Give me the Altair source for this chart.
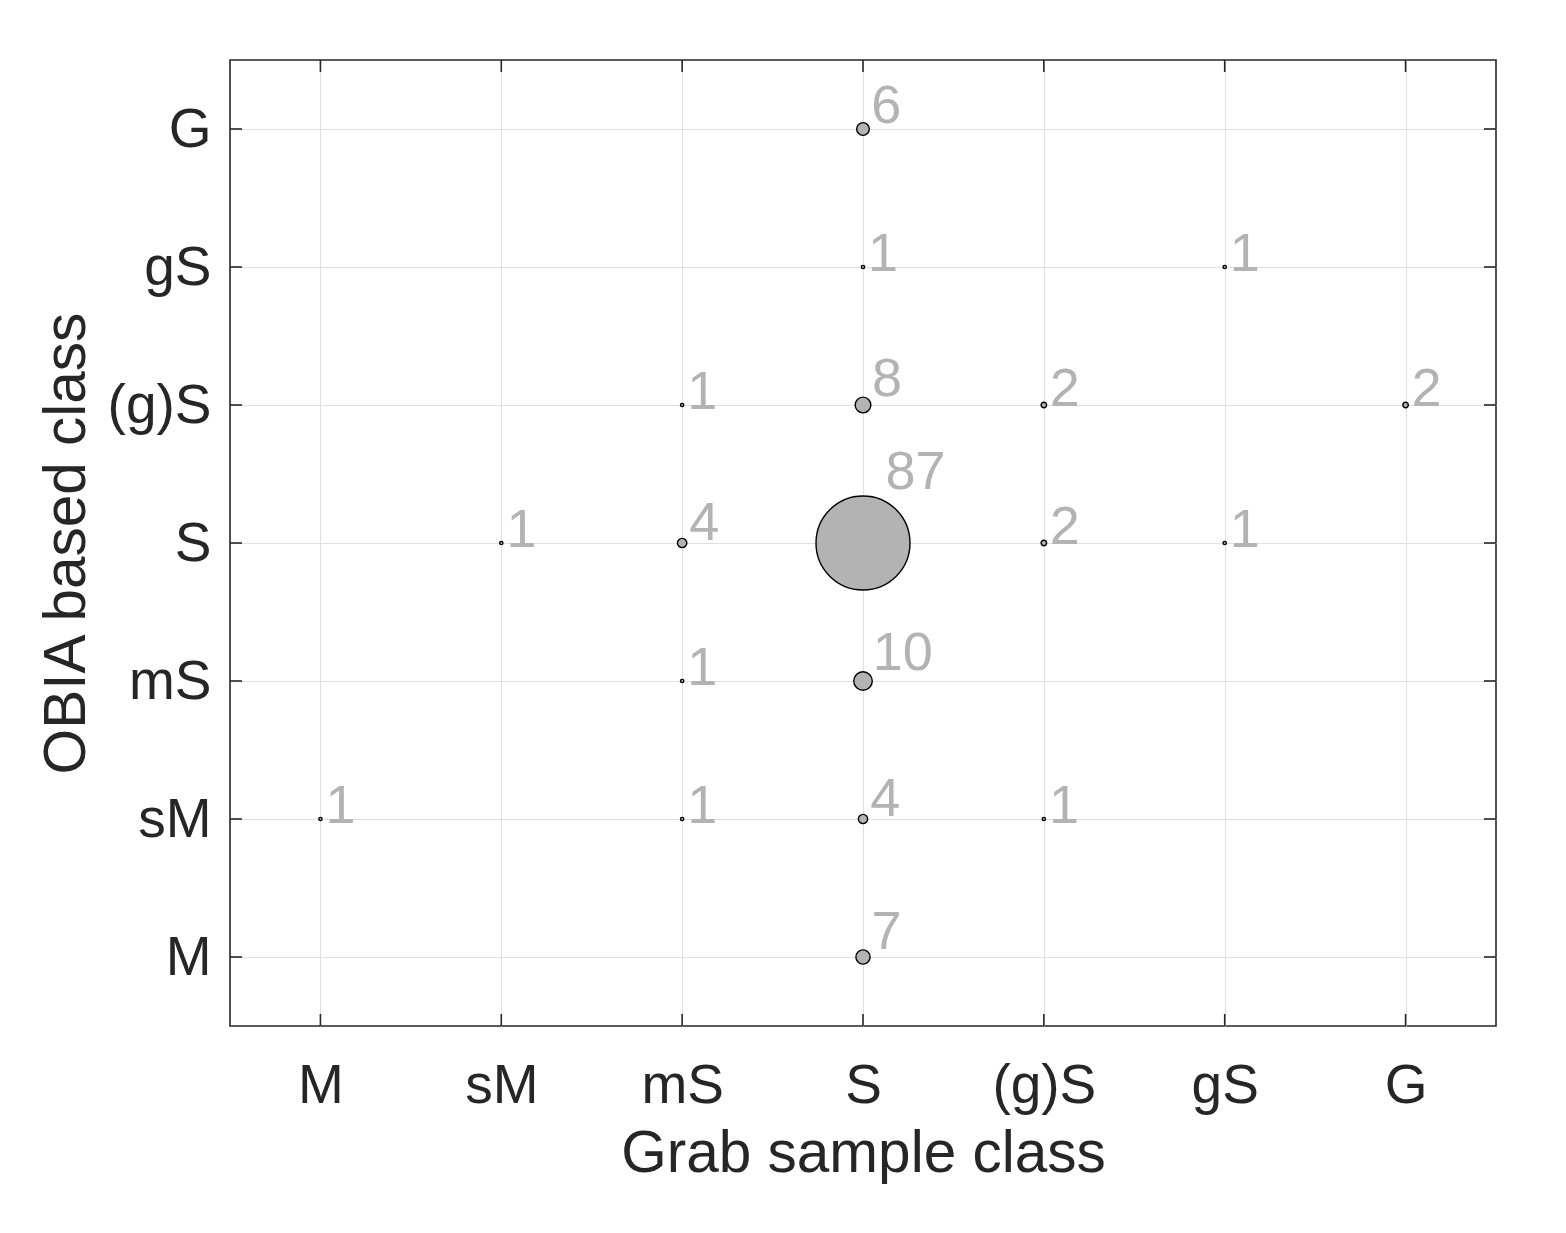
import json
import altair as alt
import pandas as pd

classes = ["M", "sM", "mS", "S", "(g)S", "gS", "G"]

grab_class = ["S", "S", "gS", "mS", "S", "(g)S", "G", "sM", "mS", "S", "(g)S", "gS",
              "mS", "S", "M", "mS", "S", "(g)S", "S"]
obia_class = ["G", "gS", "gS", "(g)S", "(g)S", "(g)S", "(g)S", "S", "S", "S", "S", "S",
              "mS", "mS", "sM", "sM", "sM", "sM", "M"]
counts = [6, 1, 1, 1, 8, 2, 2, 1, 4, 87, 2, 1, 1, 10, 1, 1, 4, 1, 7]

df = pd.DataFrame({"grab": grab_class, "obia": obia_class, "n": counts})
cls_df = pd.DataFrame({"cls": classes})

W, H = 1266, 966
PXX = W / 7.0
PXY = H / 7.0
FONT = "Liberation Sans"
DARK = "#262626"
GRID = "#e0e0e0"
LABEL_GRAY = "#b3b3b3"

cls_js = json.dumps(classes)
label_expr = f"{cls_js}[datum.value - 1]"
vals = list(range(1, len(classes) + 1))

xscale = alt.Scale(domain=[0.5, 7.5], nice=False, zero=False)
yscale = alt.Scale(domain=[0.5, 7.5], nice=False, zero=False)

xaxis = alt.Axis(values=vals, labelExpr=label_expr, title="Grab sample class",
                 grid=True, gridColor=GRID, gridWidth=1, ticks=False, tickSize=0,
                 domain=False, labelFont=FONT, labelFontSize=55, labelColor=DARK,
                 labelPadding=33, titleFont=FONT, titleFontSize=58.5,
                 titleFontWeight="normal", titleColor=DARK, titleBaseline="alphabetic",
                 titleY=145)
yaxis = alt.Axis(values=vals, labelExpr=label_expr, title="OBIA based class",
                 grid=True, gridColor=GRID, gridWidth=1, ticks=False, tickSize=0,
                 domain=False, labelFont=FONT, labelFontSize=55, labelColor=DARK,
                 labelPadding=19, titleFont=FONT, titleFontSize=58.5,
                 titleFontWeight="normal", titleColor=DARK, titleBaseline="alphabetic",
                 titleX=-146, titleY=H / 2, titleAlign="center")

base = alt.Chart(df).transform_calculate(
    gx=f"indexof({cls_js}, datum.grab) + 1",
    gy=f"indexof({cls_js}, datum.obia) + 1",
)

points = base.mark_circle(color="#b3b3b3", stroke="black", strokeWidth=1.4,
                          opacity=1).encode(
    x=alt.X("gx:Q", scale=xscale, axis=xaxis),
    y=alt.Y("gy:Q", scale=yscale, axis=yaxis),
    size=alt.Size("n:Q", scale=alt.Scale(type="pow", exponent=1.5, domain=[0, 87],
                                         range=[0, 8836], zero=True), legend=None),
    order=alt.Order("n:Q", sort="descending"),
)

labels = base.transform_calculate(
    lx=f"datum.gx + (3 + 2.1 * sqrt(datum.n)) / {PXX}",
    ly=f"datum.gy + (7 * sqrt(datum.n) - 11) / {PXY}",
    txt="'' + datum.n",
).mark_text(align="left", baseline="alphabetic", font=FONT, fontSize=54,
            color=LABEL_GRAY).encode(
    x=alt.X("lx:Q", scale=xscale, axis=xaxis),
    y=alt.Y("ly:Q", scale=yscale, axis=yaxis),
    text="txt:N",
)

tick_base = alt.Chart(cls_df).transform_calculate(
    ci=f"indexof({cls_js}, datum.cls) + 1"
)
TL = 12
tick_style = dict(color=DARK, strokeWidth=1.6)
top_ticks = tick_base.mark_rule(**tick_style).encode(
    x=alt.X("ci:Q", scale=xscale, axis=xaxis), y=alt.value(0), y2=alt.value(TL))
bot_ticks = tick_base.mark_rule(**tick_style).encode(
    x=alt.X("ci:Q", scale=xscale, axis=xaxis), y=alt.value(H - TL), y2=alt.value(H))
left_ticks = tick_base.mark_rule(**tick_style).encode(
    y=alt.Y("ci:Q", scale=yscale, axis=yaxis), x=alt.value(0), x2=alt.value(TL))
right_ticks = tick_base.mark_rule(**tick_style).encode(
    y=alt.Y("ci:Q", scale=yscale, axis=yaxis), x=alt.value(W - TL), x2=alt.value(W))

chart = alt.layer(
    top_ticks, bot_ticks, left_ticks, right_ticks, points, labels
).properties(
    width=W, height=H,
    autosize=alt.AutoSizeParams(type="none"),
    padding={"left": 222, "top": 52, "right": 62, "bottom": 199},
    background="white",
).configure_view(stroke=DARK, strokeWidth=1.6)

chart.save("out.html", embed_options={"renderer": "svg", "actions": False})
